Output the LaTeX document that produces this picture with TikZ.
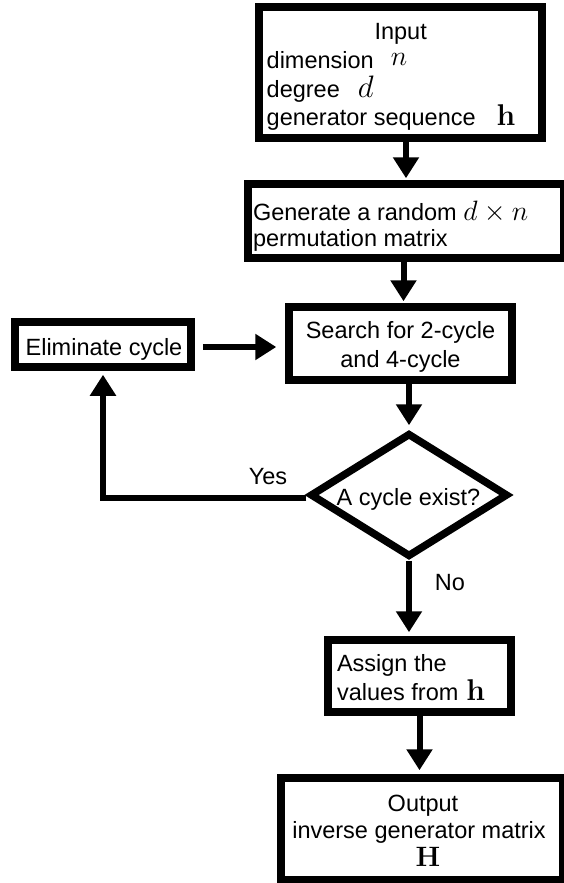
\RequirePackage{fix-cm}
\documentclass[tikz,border=0pt]{standalone}
\usepackage[no-math]{fontspec}
\setmainfont{Liberation Sans}
\usetikzlibrary{arrows.meta,shapes.geometric,calc}
\newcommand{\mth}[2][28]{{\fontsize{#1}{30}\selectfont$#2$}}
\tikzset{
  box/.style={draw, rectangle, line width=7.5pt, inner sep=0pt},
  dia/.style={draw, diamond, line width=7.5pt, inner sep=0pt, minimum width=198pt, minimum height=124pt},
  arr/.style={line width=6pt, -{Triangle[length=21pt,width=25pt]}},
  txt/.style={font=\fontsize{23.5}{29}\selectfont, inner sep=0pt, outer sep=0pt}
}
\begin{document}
\begin{tikzpicture}[x=1pt,y=-1pt]
\useasboundingbox (0,0) rectangle (563,883);
% boxes
\node[box, minimum width=283pt, minimum height=131pt] (Input) at (400.5,72.5) {};
\node[box, minimum width=316pt, minimum height=74pt] (Gen) at (406,221) {};
\node[box, minimum width=223pt, minimum height=73pt] (Search) at (400.5,343.5) {};
\node[box, minimum width=176pt, minimum height=45pt] (Elim) at (103,344.5) {};
\node[dia] (Dia) at (409,495) {};
\node[box, minimum width=183pt, minimum height=72pt] (Assign) at (419.5,676) {};
\node[box, minimum width=282pt, minimum height=102pt] (Output) at (422,829) {};
% texts
\node[txt, anchor=base] (tInput) at (400.7,40) {Input};
\node[txt, anchor=base west] (tDim) at (266.7,68) {dimension\hspace{17pt}\raisebox{2pt}{\mth{n}}};
\node[txt, anchor=base west] (tDeg) at (266.7,97) {degree\hspace{18pt}\mth[31]{d}};
\node[txt, anchor=base west] (tGen) at (266.7,125) {generator sequence\hspace{21pt}\mth[30]{\mathbf{h}}};
\node[txt, anchor=base west] (tG1) at (253,220) {Generate a random \mth{d\times n}};
\node[txt, anchor=base west] (tG2) at (253,246) {permutation matrix};
\node[txt, anchor=base] (tS1) at (400.5,338) {Search for 2-cycle};
\node[txt, anchor=base] (tS2) at (400.5,367) {and 4-cycle};
\node[txt, anchor=base] (tE) at (104,355) {Eliminate cycle};
\node[txt, anchor=base] (tD) at (408.5,505) {A cycle exist?};
\node[txt, anchor=base] (tYes) at (268,484) {Yes};
\node[txt, anchor=base] (tNo) at (450,590) {No};
\node[txt, anchor=base west] (tA1) at (337,671) {Assign the};
\node[txt, anchor=base west] (tA2) at (337,700) {values from\hspace{8pt}\mth[30]{\mathbf{h}}};
\node[txt, anchor=base] (tO1) at (423,811) {Output};
\node[txt, anchor=base] (tO2) at (419,838) {inverse generator matrix};
\node[txt, anchor=base] (tO3) at (428,866) {\mth[28]{\mathbf{H}}};
% connectors
\draw[arr, shorten >=2pt] (Gen.north |- Input.south) -- (Gen.north);
\draw[arr, shorten >=2pt] ([xshift=3pt]Search.north |- Gen.south) -- ([xshift=3pt]Search.north);
\draw[arr, shorten <=8pt, shorten >=9pt] ([yshift=-2.5pt]Elim.east) -- ([yshift=-2.5pt]Elim.east -| Search.west);
\draw[arr, shorten >=4pt] (Dia.north |- Search.south) -- (Dia.north);
\draw[arr, shorten >=4pt] ([yshift=-3pt]Dia.west) -| (Elim.south);
\draw[arr, shorten >=4pt] (Dia.south) -- (Dia.south |- Assign.north);
\draw[arr, shorten >=4pt] (Assign.south) -- (Assign.south |- Output.north);
\end{tikzpicture}
\end{document}
